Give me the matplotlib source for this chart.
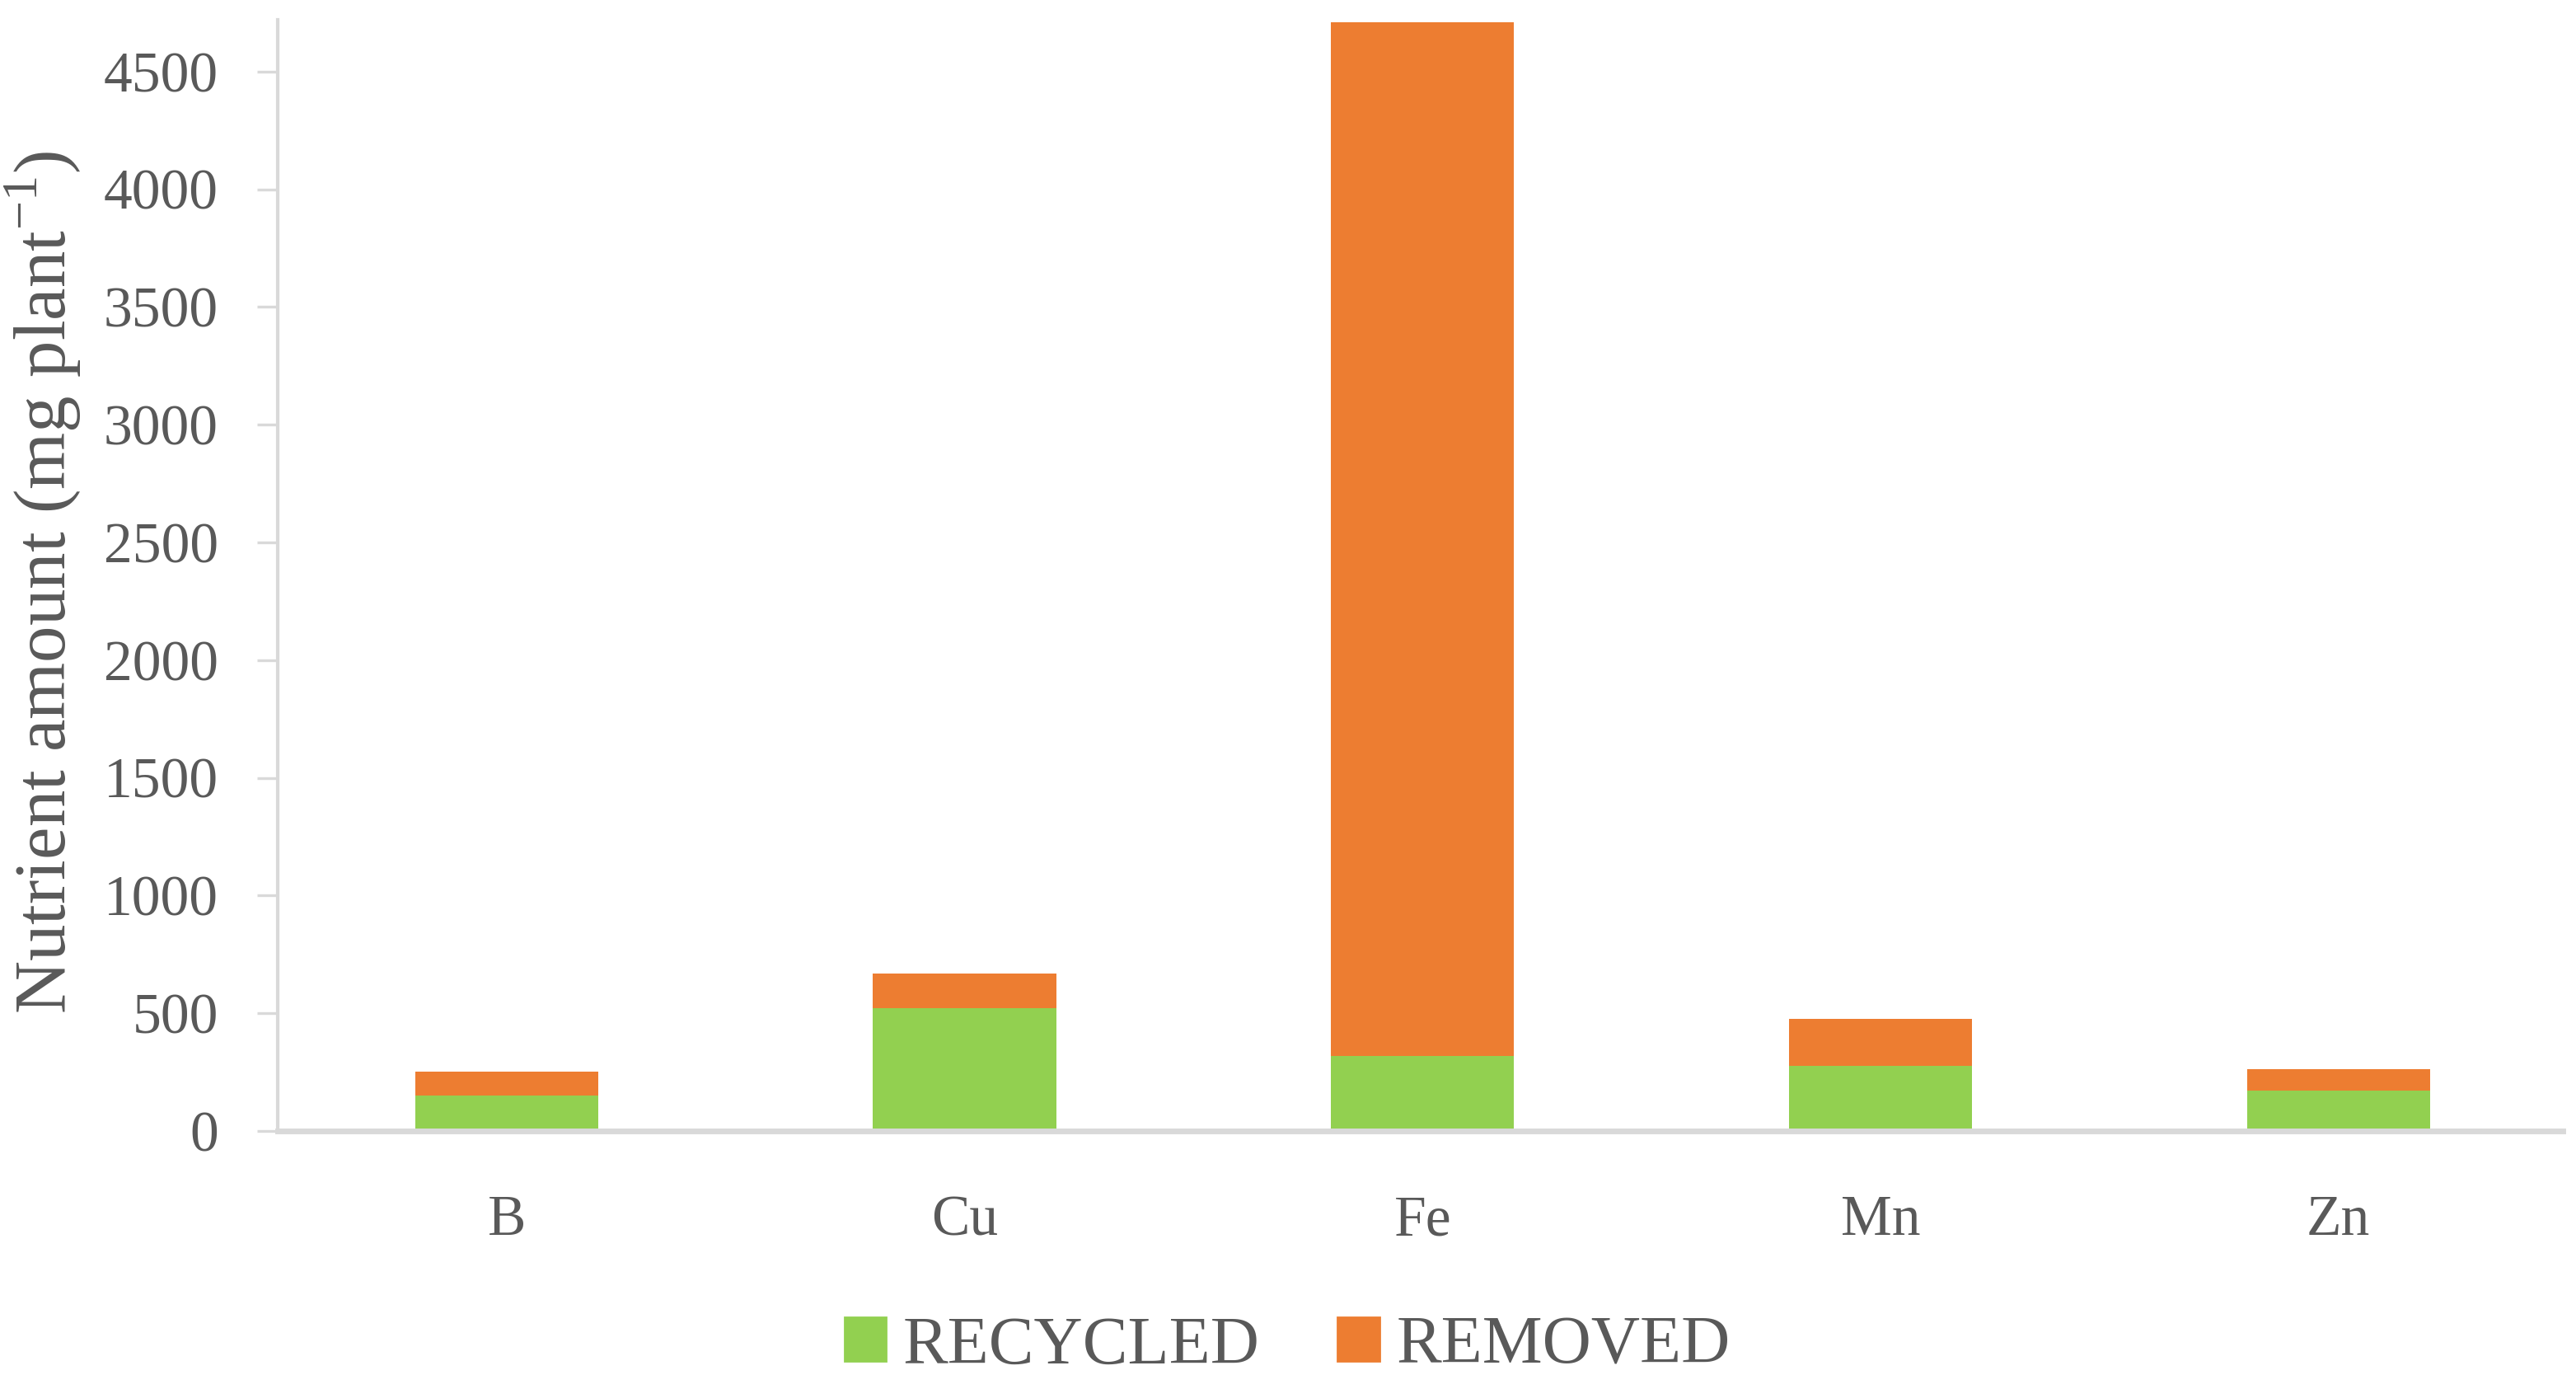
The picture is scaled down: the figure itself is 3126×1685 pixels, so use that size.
import matplotlib
matplotlib.use("Agg")
import matplotlib.pyplot as plt
import matplotlib.patches as mpatches
import numpy as np

# data
nutrients = ["B", "Cu", "Fe", "Mn", "Zn"]
recycled = [150, 523, 319, 275, 172]
removed = [102, 145, 4391, 200, 91]
yticks = [0, 500, 1000, 1500, 2000, 2500, 3000, 3500, 4000, 4500]

GREEN = "#92D050"
ORANGE = "#ED7D31"
TEXT = "#595959"
AXIS = "#D9D9D9"

plt.rcParams.update({
    "font.family": ["Liberation Serif", "DejaVu Serif"],
    "mathtext.fontset": "custom",
    "mathtext.rm": "Liberation Serif",
})

W, H = 3126, 1685
fig = plt.figure(figsize=(W / 200, H / 200), dpi=200)
ax = fig.add_axes([337 / W, 1 - 1372 / H, (3110 - 337) / W, (1372 - 24) / H])

x = np.arange(len(nutrients))
ax.bar(x, recycled, width=0.40, color=GREEN, zorder=2)
ax.bar(x, removed, width=0.40, bottom=recycled, color=ORANGE, zorder=2)

ax.set_xlim(-0.5, 4.49)
ax.set_ylim(0, 4720)
ax.set_yticks(yticks)
ax.set_yticklabels([str(v) for v in yticks])
ax.set_xticks(x)
ax.set_xticklabels(nutrients)

for s in ["top", "right"]:
    ax.spines[s].set_visible(False)
ax.spines["left"].set_color(AXIS)
ax.spines["left"].set_linewidth(1.5)
ax.spines["bottom"].set_color(AXIS)
ax.spines["bottom"].set_linewidth(2.5)
ax.spines["bottom"].set_zorder(3)

ax.tick_params(axis="y", length=9, width=1.2, color=AXIS, labelsize=25,
               labelcolor=TEXT, pad=17)
ax.tick_params(axis="x", length=0, labelsize=25, labelcolor=TEXT, pad=28)

ax.set_ylabel(r"Nutrient amount (mg plant$^{\mathregular{-1}}$)",
              fontsize=32, color=TEXT)
ax.yaxis.set_label_coords(-0.085, 0.494)

handles = [mpatches.Patch(color=GREEN, label="RECYCLED"),
           mpatches.Patch(color=ORANGE, label="REMOVED")]
leg = fig.legend(handles=handles, loc="center", bbox_to_anchor=(1562 / W, 1 - 1634 / H),
                 ncol=2, frameon=False, fontsize=29.5, handlelength=0.62,
                 handleheight=0.62, handletextpad=0.25, columnspacing=1.15)
for t in leg.get_texts():
    t.set_color(TEXT)

fig.savefig("out.png", dpi=200)
